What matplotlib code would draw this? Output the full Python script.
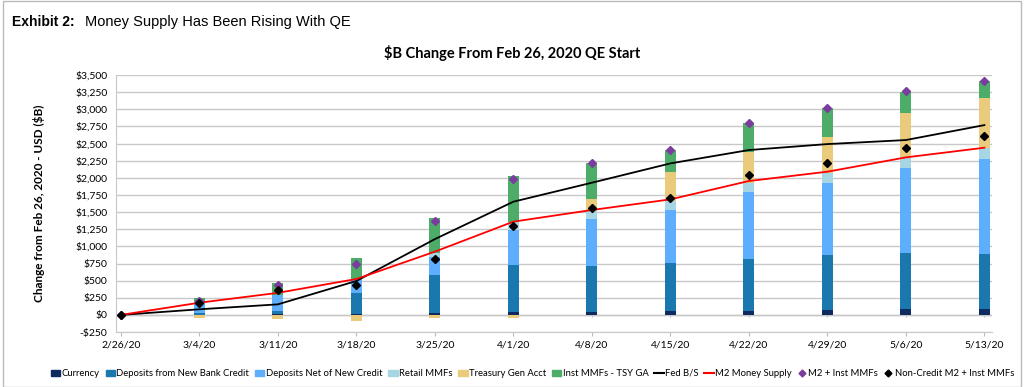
import matplotlib
matplotlib.use("Agg")
import matplotlib.pyplot as plt
import numpy as np
from matplotlib.patches import Patch, Rectangle
from matplotlib.lines import Line2D

# weekly change from Feb 26, 2020 ($B)
dates = ["2/26/20", "3/4/20", "3/11/20", "3/18/20", "3/25/20", "4/1/20",
         "4/8/20", "4/15/20", "4/22/20", "4/29/20", "5/6/20", "5/13/20"]
currency = [0, 3, 8, 10, 30, 44, 49, 58, 63, 73, 83, 87]
dep_credit = [0, 32, 55, 312, 547, 680, 665, 695, 753, 802, 826, 807]
dep_net = [0, 133, 231, 207, 265, 515, 686, 778, 972, 1054, 1229, 1380]
retail_mmf = [0, 0, 0, 0, 57, 122, 131, 136, 141, 137, 146, 166]
tsy_ga = [0, -45, -58, -82, -38, -39, 155, 423, 452, 524, 666, 729]
inst_mmf = [0, 82, 178, 303, 510, 666, 525, 316, 414, 423, 306, 248]
fed_bs = [0, 82, 154, 495, 1106, 1652, 1929, 2211, 2406, 2493, 2552, 2770]
m2 = [0, 178, 322, 524, 923, 1361, 1531, 1686, 1954, 2090, 2299, 2440]
m2_inst = [0, 202, 433, 745, 1371, 1978, 2221, 2406, 2804, 3013, 3266, 3417]
noncredit = [0, 168, 361, 442, 818, 1302, 1555, 1711, 2041, 2211, 2430, 2610]

stack_names = ["Currency", "Deposits from New Bank Credit", "Deposits Net of New Credit",
               "Retail MMFs", "Treasury Gen Acct", "Inst MMFs - TSY GA"]
stack_vals = [currency, dep_credit, dep_net, retail_mmf, tsy_ga, inst_mmf]
stack_cols = ["#0F2A5E", "#1A78AE", "#5DAEFC", "#A6D6E3", "#EACB7C", "#4DAD68"]

font = "Lato"
plt.rcParams['font.family'] = [font, 'DejaVu Sans']

fig = plt.figure(figsize=(10.24, 3.87), dpi=100)
fig.patches.append(Rectangle((0.003, 0.0), 0.994, 0.997, transform=fig.transFigure,
                             fill=False, edgecolor="#BBBBBB", linewidth=1.0))
ax = fig.add_axes([0.113, 0.142, 0.856, 0.664])

x = np.arange(len(dates))
w = 0.14
pos_base = np.zeros(len(x))
neg_base = np.zeros(len(x))
for name, vals, col in zip(stack_names, stack_vals, stack_cols):
    v = np.array(vals, dtype=float)
    bottom = np.where(v >= 0, pos_base, neg_base)
    ax.bar(x, v, w, bottom=bottom, color=col, edgecolor="none", zorder=2, label=name)
    pos_base = pos_base + np.where(v >= 0, v, 0)
    neg_base = neg_base + np.where(v < 0, v, 0)

ax.plot(x, fed_bs, color="black", lw=1.3, zorder=3, label="Fed B/S")
ax.plot(x, m2, color="#FF0000", lw=1.3, zorder=3, label="M2 Money Supply")
ax.plot(x, m2_inst, ls="none", marker="D", ms=4.2, color="#7A3D9E", zorder=4,
        label="M2 + Inst MMFs")
ax.plot(x, noncredit, ls="none", marker="D", ms=4.2, color="black", zorder=5,
        label="Non-Credit M2 + Inst MMFs")

ax.set_xlim(-0.065, 11.1)
ax.set_ylim(-250, 3500)
yt = np.arange(-250, 3501, 250)
ax.set_yticks(yt)
ax.set_yticklabels([("-$" if t < 0 else "$") + format(abs(t), ",") for t in yt],
                   fontsize=7.5)
ax.set_xticks(x)
ax.set_xticklabels(dates, fontsize=7.5)
ax.tick_params(axis="x", length=3, color="#BBBBBB", pad=3)
ax.tick_params(axis="y", length=0, pad=6)
ax.grid(axis="y", color="#C8C8C8", lw=1.0, zorder=0)
ax.axhline(0, color="#BFBFBF", lw=1.0, zorder=1)
ax.vlines(x, -35, 0, color="#BFBFBF", lw=0.8, zorder=1)
for s in ["top", "right"]:
    ax.spines[s].set_visible(False)
ax.spines["left"].set_color("#C8C8C8")
ax.spines["bottom"].set_color("#C8C8C8")

ax.set_ylabel("Change from Feb 26, 2020 - USD ($B)", fontsize=8.5, fontweight="bold",
              labelpad=22)
fig.text(0.5, 0.862, "$B Change From Feb 26, 2020 QE Start", fontsize=10.5,
         fontweight="bold", ha="center", va="center")

fig.text(0.012, 0.944, "Exhibit 2:", fontsize=10, fontweight="bold",
         family="Liberation Sans", va="center")
fig.text(0.083, 0.944, "Money Supply Has Been Rising With QE", fontsize=10.5,
         family="Liberation Sans", va="center")

handles = [Patch(color=c, label=n) for n, c in zip(stack_names, stack_cols)]
handles += [Line2D([], [], color="black", lw=1.5, label="Fed B/S"),
            Line2D([], [], color="#FF0000", lw=1.5, label="M2 Money Supply"),
            Line2D([], [], ls="none", marker="D", ms=3.5, color="#7A3D9E", label="M2 + Inst MMFs"),
            Line2D([], [], ls="none", marker="D", ms=3.5, color="black",
                   label="Non-Credit M2 + Inst MMFs")]
fig.legend(handles=handles, loc="center", bbox_to_anchor=(0.52, 0.035), ncol=10,
           frameon=False, fontsize=6.8, handlelength=1.0, handleheight=0.6,
           handletextpad=0.15, columnspacing=0.6)

fig.savefig("out.png", dpi=100)
